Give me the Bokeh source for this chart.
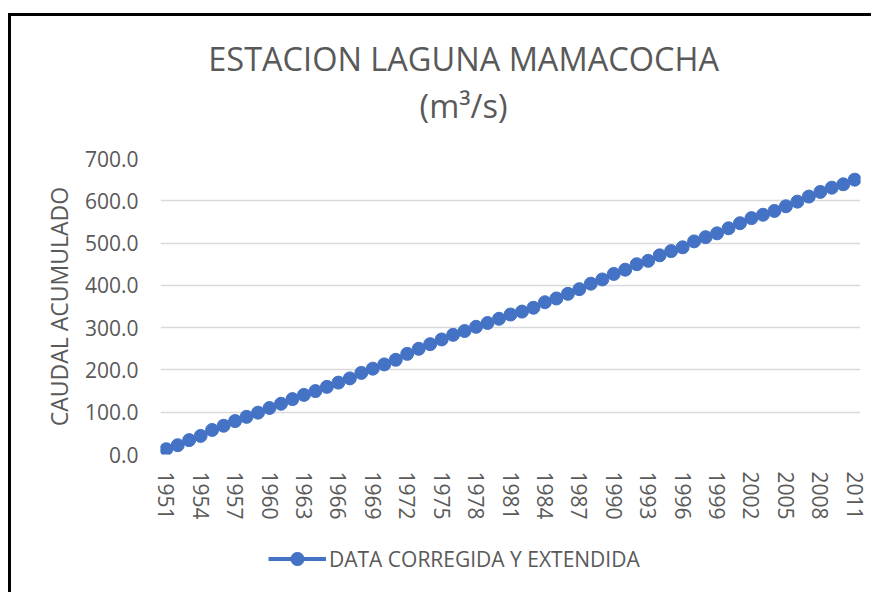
from bokeh.plotting import figure
from bokeh.models import Range1d, FixedTicker, Legend, LegendItem, NumeralTickFormatter, Label
from bokeh.layouts import column
from bokeh.embed import file_html
from bokeh.resources import INLINE

years = list(range(1951, 2012))
caudal_acumulado = [
    12.5, 22, 34, 44, 58, 68, 79, 89, 99, 110,
    120, 131, 141, 150, 160, 170, 180, 193, 203, 213,
    224, 238, 250, 261, 272, 283, 292, 302, 311, 321,
    331, 338, 347, 360, 369, 380, 391, 404, 414, 427,
    437, 450, 458, 471, 481, 490, 504, 514, 523, 535,
    547, 559, 567, 576, 587, 598, 610, 621, 631, 639,
    650,
]
tick_years = years[::3]
y_ticks = [0, 100, 200, 300, 400, 500, 600, 700]
title_line1 = "ESTACION LAGUNA MAMACOCHA"
title_line2 = "(m³/s)"
y_label = "CAUDAL ACUMULADO"
series_name = "DATA CORREGIDA Y EXTENDIDA"

FONT = "Open Sans"
GREY = "#595959"
BLUE = "#4472C4"


def blank(fig):
    fig.outline_line_color = None
    fig.xgrid.grid_line_color = None
    fig.ygrid.grid_line_color = None
    fig.background_fill_color = "white"
    fig.border_fill_color = "white"


# title strip
head = figure(width=860, height=126, output_backend="svg", toolbar_location=None,
              title=None, x_range=Range1d(0, 1), y_range=Range1d(0, 1),
              min_border_left=149, min_border_right=11, min_border_top=0,
              min_border_bottom=0, x_axis_type=None, y_axis_type=None)
blank(head)
head.add_layout(Label(x=0.433, y=0.67, text=title_line1, text_align="center",
                      text_baseline="middle", text_font=FONT, text_font_size="32.5px",
                      text_color=GREY))
head.add_layout(Label(x=0.433, y=0.29, text=title_line2, text_align="center",
                      text_baseline="middle", text_font=FONT, text_font_size="32.5px",
                      text_color=GREY))

# main chart
p = figure(width=860, height=388, output_backend="svg", toolbar_location=None,
           title=None, x_range=Range1d(1950.5, 2011.5), y_range=Range1d(0, 700),
           min_border_left=149, min_border_right=11, min_border_top=16,
           min_border_bottom=76)
p.outline_line_color = None
p.background_fill_color = "white"
p.border_fill_color = "white"

p.line(years, caudal_acumulado, line_color=BLUE, line_width=4)
p.scatter(years, caudal_acumulado, size=13, fill_color=BLUE, line_color=BLUE)

p.xgrid.grid_line_color = None
p.ygrid.grid_line_color = "#D9D9D9"
p.ygrid.grid_line_width = 1.5

p.xaxis.ticker = FixedTicker(ticks=tick_years)
p.yaxis.ticker = FixedTicker(ticks=y_ticks)
p.yaxis.formatter = NumeralTickFormatter(format="0.0")
p.xaxis.major_label_orientation = "vertical"
for ax in (p.xaxis[0], p.yaxis[0]):
    ax.axis_line_color = None
    ax.major_tick_line_color = None
    ax.minor_tick_line_color = None
    ax.major_label_text_font = FONT
    ax.major_label_text_font_size = "21px"
    ax.major_label_text_color = GREY
p.xaxis.major_label_standoff = 11
p.yaxis.major_label_standoff = 16
p.yaxis.axis_label = y_label
p.yaxis.axis_label_text_font = FONT
p.yaxis.axis_label_text_font_size = "23px"
p.yaxis.axis_label_text_font_style = "normal"
p.yaxis.axis_label_text_color = GREY
p.yaxis.axis_label_standoff = 7

# legend strip below the chart (series drawn off-range, only its legend shows)
lg = figure(width=860, height=62, output_backend="svg", toolbar_location=None,
            title=None, x_range=Range1d(0, 1), y_range=Range1d(0, 1),
            min_border_left=149, min_border_right=11, min_border_top=0,
            min_border_bottom=0, x_axis_type=None, y_axis_type=None)
blank(lg)
lg_line = lg.line(years, caudal_acumulado, line_color=BLUE, line_width=4)
lg_pts = lg.scatter(years, caudal_acumulado, size=13, fill_color=BLUE, line_color=BLUE)
legend = Legend(items=[LegendItem(label=series_name, renderers=[lg_line, lg_pts])],
                location=(108, 17), orientation="horizontal",
                label_text_font=FONT, label_text_font_size="21px",
                label_text_color=GREY, glyph_width=58, glyph_height=33,
                border_line_color=None, background_fill_alpha=0,
                padding=0, margin=0, label_standoff=3)
lg.add_layout(legend, "center")

layout = column(head, p, lg, spacing=0)
layout.margin = (13, 0, 0, 8)
layout.styles = {"border-left": "3px solid black", "border-top": "3px solid black"}

open("out.html", "w").write(file_html(layout, INLINE))
